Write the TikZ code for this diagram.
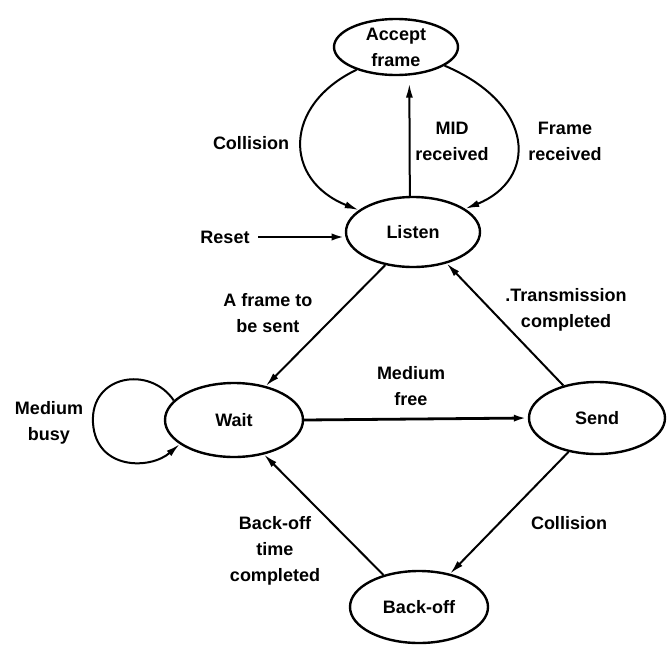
\documentclass[tikz,border=0pt]{standalone}
\usepackage{fontspec}
\setmainfont{Liberation Sans}
\usetikzlibrary{shapes.geometric,arrows.meta}

\begin{document}
\begin{tikzpicture}[x=1pt,y=-1pt,
  txt/.style={font=\bfseries\fontsize{18}{26}\selectfont, align=center, inner sep=0pt},
  state/.style={txt, draw, ellipse, line width=2.4pt, inner sep=0pt},
  arr/.style={line width=2pt, -{Latex[length=14pt,width=7pt]}},
  thick arr/.style={arr, line width=2.8pt}
]
\useasboundingbox (0,0) rectangle (667,646);

% states
\node[state, minimum width=124pt, minimum height=56pt] (accept) at (396,47) {Accept\\frame};
\node[state, minimum width=134pt, minimum height=70pt] (listen) at (413,232) {Listen};
\node[state, minimum width=138pt, minimum height=74pt] (wait) at (234,420) {Wait};
\node[state, minimum width=136pt, minimum height=72pt] (send) at (597,418) {Send};
\node[state, minimum width=138pt, minimum height=72pt] (backoff) at (419,607) {Back-off};

% labels
\node[txt] (lcoll1) at (251,143) {Collision};
\node[txt] (lmid) at (452,141) {MID\\received};
\node[txt] (lframe) at (565,141) {Frame\\received};
\node[txt] (lreset) at (225,237) {Reset};
\node[txt] (lsent) at (268,313) {A frame to\\be sent};
\node[txt] (ltrans) at (566,310) {.Transmission\\completed};
\node[txt] (lfree) at (411,386) {Medium\\free};
\node[txt] (lbusy) at (49,423) {Medium\\busy};
\node[txt] (lcoll2) at (569,523) {Collision};
\node[txt] (lback) at (275,551) {Back-off\\time\\completed};

% transitions
\coordinate (rs) at (258,237);
\draw[thick arr] (rs) -- (rs -| listen.185);

\draw[arr] (accept.210) .. controls (283,105) and (283,180) .. (listen.158);
\draw[arr] (accept.339) .. controls (537,105) and (537,180) .. (listen.24);
\draw[arr, shorten >=8pt] (listen.95) -- (accept.-65);

\draw[arr] (listen.230) -- (wait.47);
\draw[arr] (send.136) -- (listen.317);
\draw[thick arr] (wait.east) -- (send.west);
\draw[arr] (send.230) -- (backoff.47);
\draw[arr] (backoff.138) -- (wait.311);

\draw[arr] (wait.162) .. controls (150,365) and (90,375) .. (93,423)
                      .. controls (96,470) and (150,470) .. (wait.204);
\end{tikzpicture}
\end{document}
